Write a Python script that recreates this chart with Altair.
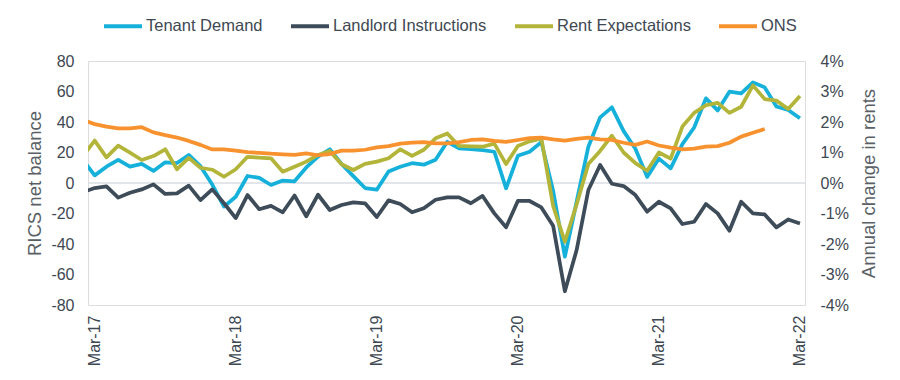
import altair as alt
import pandas as pd

# Monthly categories, Feb-17 .. Mar-22 (Feb-17 sits just left of the plot edge)
months = pd.date_range("2017-02-01", "2022-03-01", freq="MS").strftime("%b-%y").tolist()
tick_labels = ["Mar-17", "Mar-18", "Mar-19", "Mar-20", "Mar-21", "Mar-22"]

series_names = ["Tenant Demand", "Landlord Instructions", "Rent Expectations", "ONS"]
series_colors = ["#15B1DA", "#3D4C58", "#B3B53B", "#F7922F"]

tenant = [15, 5, 10.7, 15.1, 10.7, 12.5, 7.9, 13.6, 13.1, 18.4, 11, -1, -15.5, -9, 4.6, 3.4,
          -1.3, 1.6, 1.1, 10.2, 17.3, 22.1, 12.5, 4.5, -3.3, -4.4, 7.6, 10.7, 13, 12, 15.3, 27,
          22.7, 22.2, 21.6, 20.5, -3.5, 17.8, 20.5, 26.8, -5, -48.3, -12.3, 23.8, 43, 49.6, 34,
          22.5, 4, 16, 9.6, 25.5, 36.4, 55.5, 47.6, 59.9, 58.8, 66, 62.7, 50.2, 47.9, 42.4]
landlord = [-6, -3.3, -2.2, -9.6, -6.4, -4.2, -0.9, -7.2, -6.8, -1.7, -11.2, -4.2, -13.3, -23,
            -7.9, -17.2, -15, -19.2, -8.2, -21.8, -7.7, -17.7, -14.4, -12.7, -13.3, -22.3, -11.4,
            -13.8, -19.2, -16.6, -11, -9.4, -9.4, -13.3, -8.5, -19.9, -29, -11.8, -11.8, -16, -28,
            -71, -44, -4.6, 11.8, -0.5, -2, -7.9, -18.8, -12.3, -16.6, -26.9, -25.4, -13.8, -19.9,
            -31.3, -12.3, -19.9, -20.6, -29.1, -23.9, -26.5]
rent = [17.6, 27.8, 16.8, 24.5, 19.9, 15.1, 17.7, 22.1, 9, 16.5, 10, 8.7, 4.1, 9, 17.2, 16.6,
        16.2, 7.4, 10.7, 14, 18.4, 21, 12.3, 8.5, 12.5, 14, 16.2, 22.1, 17.8, 21.8, 29.3, 32.5,
        24.3, 24, 23.8, 25.8, 12.4, 24.3, 27.3, 29.3, -15, -38.5, -14, 12.5, 21, 31, 20, 13, 8,
        20, 16, 37, 46, 51, 52.5, 46, 50, 64, 55, 54, 48.5, 57]
ons = [2.07, 1.93, 1.85, 1.79, 1.79, 1.83, 1.66, 1.57, 1.49, 1.38, 1.25, 1.10, 1.10, 1.06, 1.01,
       0.99, 0.96, 0.94, 0.92, 0.97, 0.91, 0.95, 1.06, 1.06, 1.09, 1.17, 1.21, 1.29, 1.32, 1.34,
       1.30, 1.30, 1.34, 1.41, 1.43, 1.38, 1.35, 1.41, 1.47, 1.49, 1.43, 1.39, 1.45, 1.49, 1.43,
       1.41, 1.32, 1.25, 1.36, 1.23, 1.16, 1.10, 1.13, 1.19, 1.21, 1.32, 1.52, 1.65, 1.77,
       None, None, None]

k_index = list(range(-1, len(months) - 1))  # 0 = Mar-17


def frame(name, vals):
    df = pd.DataFrame({"k": k_index, "month": months, "value": vals, "series": name})
    return df.dropna()


TEXT = "#3E4852"
TITLE = "#595F66"
FONT = "Liberation Sans"

labels_js = "[" + ",".join("'%s'" % t for t in tick_labels) + "]"
x_enc = alt.X(
    "k:Q",
    scale=alt.Scale(domain=[-0.57, 60.43], nice=False, zero=False),
    axis=alt.Axis(values=[0, 12, 24, 36, 48, 60], labelExpr=labels_js + "[round(datum.value/12)]",
                  labelAngle=270, labelAlign="right", labelBaseline="middle", labelPadding=10,
                  labelFlush=False, labelOverlap=False, ticks=False, domain=False, grid=False,
                  labelFontSize=16, labelColor=TEXT, labelFont=FONT, title=None),
)
y_left = alt.Y(
    "value:Q",
    scale=alt.Scale(domain=[-80, 80], nice=False, zero=False),
    axis=alt.Axis(values=list(range(-80, 81, 20)), labelExpr="'' + datum.value",
                  title="RICS net balance", titleFontSize=18.5, titleFontWeight="normal",
                  titleColor=TITLE, titleFont=FONT, titlePadding=6,
                  labelFontSize=16, labelColor=TEXT, labelFont=FONT, labelPadding=14,
                  ticks=False, domain=False, grid=False),
)
y_right = alt.Y(
    "value:Q",
    scale=alt.Scale(domain=[-4, 4], nice=False, zero=False),
    axis=alt.Axis(orient="right", values=list(range(-4, 5)), labelExpr="datum.value + '%'",
                  title="Annual change in rents", titleAngle=270, titleFontSize=18.5,
                  titleFontWeight="normal", titleColor=TITLE, titleFont=FONT, titlePadding=30,
                  labelFontSize=16, labelColor=TEXT, labelFont=FONT, labelPadding=15,
                  ticks=False, domain=False, grid=False),
)
legend = alt.Legend(orient="none", legendX=14, legendY=-56, direction="horizontal", columns=4,
                    symbolType="stroke", symbolSize=1444, symbolStrokeWidth=4,
                    labelFontSize=16.5, labelColor=TEXT, labelFont=FONT, labelOffset=2,
                    columnPadding=20, title=None)
color_enc = alt.Color("series:N", scale=alt.Scale(domain=series_names, range=series_colors),
                      legend=legend, title=None)


def line(df):
    return alt.Chart(df).mark_line(strokeWidth=3.75, clip=True, strokeJoin="round").encode(
        x=x_enc, color=color_enc)


zero_rule = alt.Chart(pd.DataFrame({"value": [0]})).mark_rule(
    color="#D9DDE2", strokeWidth=1.5).encode(y=y_left)

left = alt.layer(
    zero_rule,
    line(frame("Tenant Demand", tenant)).encode(y=y_left),
    line(frame("Landlord Instructions", landlord)).encode(y=y_left),
    line(frame("Rent Expectations", rent)).encode(y=y_left),
)
right = line(frame("ONS", ons)).encode(y=y_right)

chart = alt.layer(left, right).resolve_scale(y="independent").properties(
    width=717, height=244,
    padding={"left": 80, "top": 53, "right": 87, "bottom": 67},
    autosize=alt.AutoSizeParams(type="none"),
).configure_view(stroke=None).configure(font=FONT)

chart.save("out.html", embed_options={"renderer": "svg", "actions": False})
